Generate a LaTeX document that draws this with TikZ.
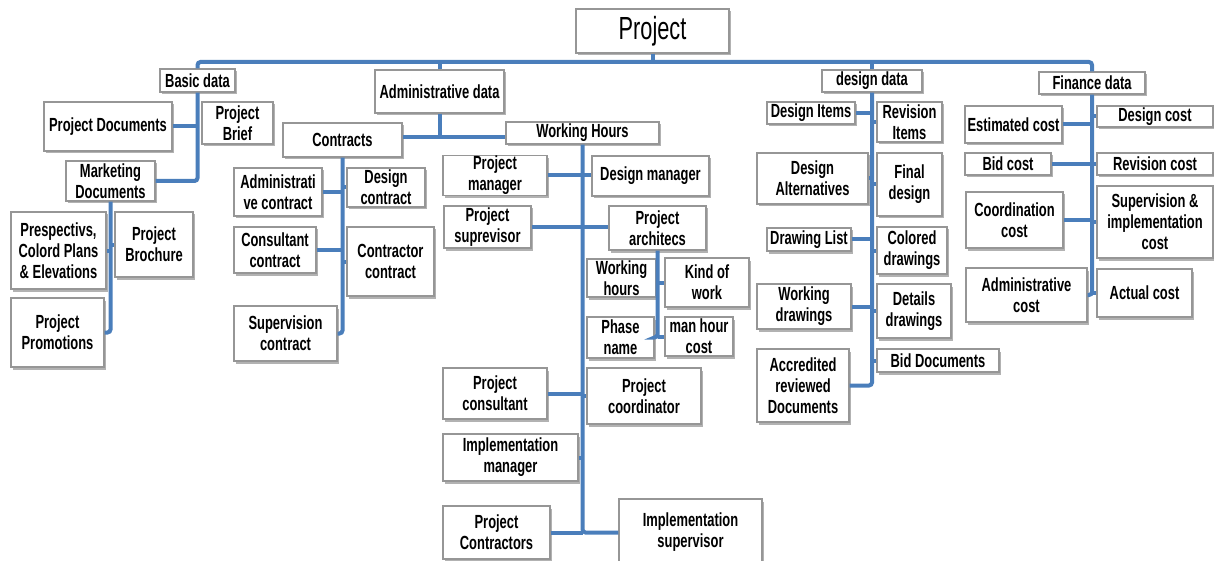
\documentclass[tikz,border=0pt]{standalone}
\usepackage{fontspec}
\setmainfont[FakeStretch=0.68]{Liberation Sans}
\usetikzlibrary{shadows}
\definecolor{linkblue}{RGB}{74,126,187}
\definecolor{boxgray}{RGB}{150,150,150}

\begin{document}
\begin{tikzpicture}[x=1pt,y=-1pt,
	box/.style={draw=boxgray, line width=1.2pt, fill=white, align=center, inner sep=1pt,
		font=\fontsize{19}{21}\selectfont\bfseries,
		drop shadow={shadow xshift=2pt, shadow yshift=-2.5pt, fill=black, opacity=.3}},
	sz/.style 2 args={minimum width=#1pt, minimum height=#2pt},
	link/.style={draw=linkblue, line width=4pt},
	elbow/.style={link, rounded corners=3pt}]
	\useasboundingbox (0,0) rectangle (1214,561);
	\node[box, sz={153}{44}, font=\fontsize{32}{34}\selectfont] (proj) at (652.5,31) {Project};
	\node[box, sz={75}{23}] (basic) at (197.5,80.5) {Basic data};
	\node[box, sz={128}{49}] (pdoc) at (108,126.5) {Project Documents};
	\node[box, sz={71}{42}] (pbrief) at (237.5,123) {Project\\Brief};
	\node[box, sz={89}{40}] (mkt) at (110.5,181) {Marketing\\Documents};
	\node[box, sz={95}{77}] (persp) at (58.5,250.5) {Prespectivs,\\Colord Plans\\\& Elevations};
	\node[box, sz={78}{65}] (broch) at (154,244.5) {Project\\Brochure};
	\node[box, sz={93}{69}] (promo) at (57.5,332.5) {Project\\Promotions};
	\node[box, sz={129}{43}] (admin) at (439.5,91.5) {Administrative data};
	\node[box, sz={119}{34}] (contr) at (342.5,140) {Contracts};
	\node[box, sz={153}{22}] (whours) at (582.5,133) {Working Hours};
	\node[box, sz={88}{48}] (adcon) at (278,192) {Administrati\\ve contract};
	\node[box, sz={78}{39}] (descon) at (386,187.5) {Design\\contract};
	\node[box, sz={82}{46}] (conscon) at (275,250) {Consultant\\contract};
	\node[box, sz={87}{69}] (ctrcon) at (390.5,261.5) {Contractor\\contract};
	\node[box, sz={103}{55}] (supcon) at (285.5,333.5) {Supervision\\contract};
	\node[box, sz={104}{39}] (pman) at (495,175.5) {Project\\manager};
	\node[box, sz={117}{40}] (dman) at (650.5,176) {Design manager};
	\node[box, sz={87}{42}] (psup) at (487.5,227) {Project\\suprevisor};
	\node[box, sz={97}{44}] (parch) at (657.5,228) {Project\\architecs};
	\node[box, sz={69}{38}] (wh) at (621.5,278) {Working\\hours};
	\node[box, sz={84}{49}] (kind) at (707,282.5) {Kind of\\work};
	\node[box, sz={67}{41}] (phase) at (620.5,337.5) {Phase\\name};
	\node[box, sz={68}{39}] (mhc) at (699,336.5) {man hour\\cost};
	\node[box, sz={104}{51}] (pcons) at (495,393.5) {Project\\consultant};
	\node[box, sz={114}{56}] (pcoord) at (644,396) {Project\\coordinator};
	\node[box, sz={135}{47}] (iman) at (510.5,457.5) {Implementation\\manager};
	\node[box, sz={107}{53}] (pctr) at (496.5,532.5) {Project\\Contractors};
	\node[box, sz={143}{67}] (isup) at (690.5,532.5) {Implementation\\supervisor};
	\node[box, sz={100}{22}] (ddata) at (872,81) {design data};
	\node[box, sz={88}{22}] (ditems) at (811,113) {Design Items};
	\node[box, sz={65}{40}] (ritems) at (909.5,122) {Revision\\Items};
	\node[box, sz={111}{51}] (dalt) at (812.5,178.5) {Design\\Alternatives};
	\node[box, sz={65}{63}] (fdes) at (909.5,184.5) {Final\\design};
	\node[box, sz={84}{23}] (dlist) at (809,239.5) {Drawing List};
	\node[box, sz={70}{47}] (cdraw) at (912,250.5) {Colored\\drawings};
	\node[box, sz={94}{45}] (wdraw) at (804,306.5) {Working\\drawings};
	\node[box, sz={74}{54}] (ddraw) at (914,311) {Details\\drawings};
	\node[box, sz={122}{23}] (bdoc) at (938,360.5) {Bid Documents};
	\node[box, sz={92}{73}] (accr) at (803,385.5) {Accredited\\reviewed\\Documents};
	\node[box, sz={106}{22}] (fdata) at (1092,83) {Finance data};
	\node[box, sz={97}{37}] (estc) at (1013.5,124.5) {Estimated cost};
	\node[box, sz={116}{21}] (desc) at (1155,116.5) {Design cost};
	\node[box, sz={86}{22}] (bidc) at (1008,164) {Bid cost};
	\node[box, sz={116}{22}] (revc) at (1155,164) {Revision cost};
	\node[box, sz={97}{56}] (coorc) at (1014.5,220) {Coordination\\cost};
	\node[box, sz={116}{72}] (supic) at (1155,222) {Supervision \&\\implementation\\cost};
	\node[box, sz={121}{54}] (admc) at (1026.5,295) {Administrative\\cost};
	\node[box, sz={95}{48}] (actc) at (1144.5,293) {Actual cost};
	\coordinate (bus) at (652.5,62);
	\coordinate (ajoin) at (439.5,137);
	\draw[elbow] (basic.north) |- (bus) -| (fdata.north);
	\draw[link] (proj.south) -- (bus);
	\draw[link] (admin.north) -- (admin.north |- bus);
	\draw[link] (ddata.north) -- (ddata.north |- bus);
	\draw[elbow] (basic.south) |- (mkt.east);
	\draw[link] (pdoc.east) -- (pdoc.east -| basic.south);
	\draw[elbow] (mkt.south) |- (promo.east);
	\draw[link] (persp.east) -- (persp.east -| mkt.south);
	\draw[link] (broch.west -| mkt.south) -- (broch.west);
	\draw[link] (admin.south) -- (ajoin);
	\draw[link] (contr.east |- ajoin) -- (whours.west |- ajoin);
	\draw[elbow] (contr.south) |- (supcon.east);
	\draw[link] (adcon.east) -- (adcon.east -| contr.south);
	\draw[link] (conscon.east) -- (conscon.east -| contr.south);
	\draw[link] (descon.west -| contr.south) -- (descon.west);
	\draw[link] (ctrcon.west -| contr.south) -- (ctrcon.west);
	\draw[elbow] (whours.south) |- (isup.west);
	\draw[link] (pman.east) -- (pman.east -| dman.west);
	\draw[link] (psup.east) -- (psup.east -| parch.west);
	\draw[link] (pcons.east) -- (pcons.east -| whours.south);
	\draw[link] (pcoord.west -| whours.south) -- (pcoord.west);
	\draw[link] (iman.east) -- (iman.east -| whours.south);
	\draw[link] (pctr.east) -- (pctr.east -| whours.south);
	\draw[elbow] (parch.south) |- (phase.east);
	\draw[link] (kind.west -| parch.south) -- (kind.west);
	\draw[link] (mhc.west -| parch.south) -- (mhc.west);
	\draw[elbow] (ddata.south) |- (accr.east);
	\draw[link] (ditems.east) -- (ditems.east -| ddata.south);
	\draw[link] (dalt.east) -- (dalt.east -| ddata.south);
	\draw[link] (dlist.east) -- (dlist.east -| ddata.south);
	\draw[link] (wdraw.east) -- (wdraw.east -| ddata.south);
	\draw[link] (ritems.west -| ddata.south) -- (ritems.west);
	\draw[link] (fdes.west -| ddata.south) -- (fdes.west);
	\draw[link] (cdraw.west -| ddata.south) -- (cdraw.west);
	\draw[link] (ddraw.west -| ddata.south) -- (ddraw.west);
	\draw[link] (bdoc.west -| ddata.south) -- (bdoc.west);
	\draw[elbow] (fdata.south) |- (admc.east);
	\draw[link] (estc.east) -- (estc.east -| fdata.south);
	\draw[link] (bidc.east) -- (bidc.east -| fdata.south);
	\draw[link] (coorc.east) -- (coorc.east -| fdata.south);
	\draw[link] (desc.west -| fdata.south) -- (desc.west);
	\draw[link] (revc.west -| fdata.south) -- (revc.west);
	\draw[link] (supic.west -| fdata.south) -- (supic.west);
	\draw[link] (actc.west -| fdata.south) -- (actc.west);
\end{tikzpicture}
\end{document}
